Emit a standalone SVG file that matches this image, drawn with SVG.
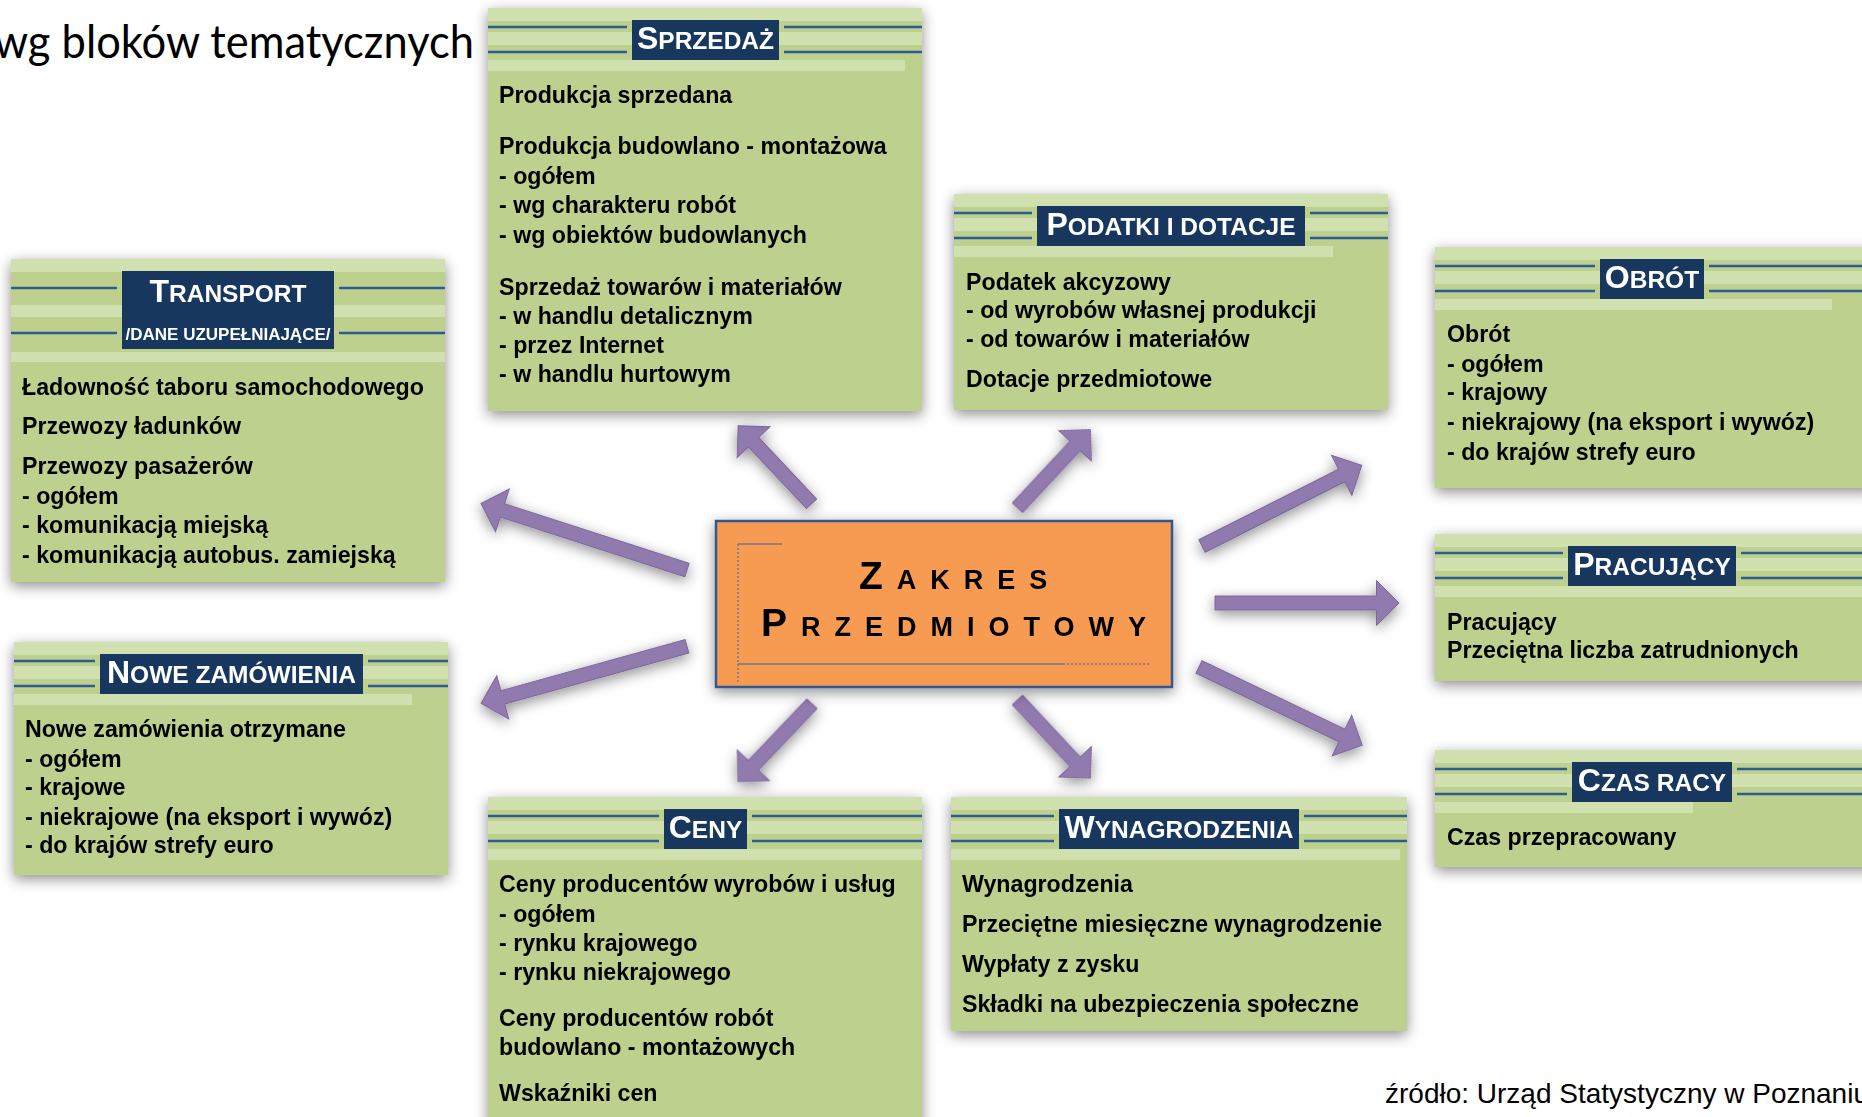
<svg xmlns="http://www.w3.org/2000/svg" width="1862" height="1117" viewBox="0 0 1862 1117">
  <defs>
    <style>
      .body{fill:#BDD08E}
      .band{fill:#D1E0AF}
      .rule{stroke:#2D5B92;stroke-width:2.5}
      .tbox{fill:#17375E}
      .ttl{font-family:"Liberation Sans",Arial,sans-serif;font-weight:bold;fill:#FFFFFF;text-anchor:middle}
      .big{font-size:32px}
      .sm{font-size:24.5px}
      .txt{font-family:"Liberation Sans",Arial,sans-serif;font-weight:bold;font-size:23.2px;fill:#000000}
      .arrow{fill:#917AAE;stroke:#7C679D;stroke-width:1}
      .deco{stroke:#6E7891;stroke-width:1.5;fill:none}
      .dots{stroke:#6E7891;stroke-width:1.5;stroke-dasharray:2 2;fill:none}
      .core{font-family:"Liberation Sans",Arial,sans-serif;font-weight:bold;fill:#000000;letter-spacing:14px}
    </style>
    <filter id="shadow" x="-15%" y="-15%" width="130%" height="135%">
      <feDropShadow dx="0" dy="4" stdDeviation="7" flood-color="#000000" flood-opacity="0.45"/>
    </filter>
  </defs>

  <rect x="0" y="0" width="1862" height="1117" fill="#FFFFFF"/>

  <!-- page heading and source note -->
  <text x="-6" y="58" font-family="Lato, 'Open Sans', sans-serif" font-size="46" fill="#000000" textLength="480" lengthAdjust="spacingAndGlyphs">wg bloków tematycznych</text>
  <text x="1385" y="1103" font-family="'Liberation Sans', Arial, sans-serif" font-size="28" fill="#000000">źródło: Urząd Statystyczny w Poznaniu</text>

  <!-- connectors: block arrows radiating from the centre -->
  <g id="connectors" filter="url(#shadow)">
    <path class="arrow" transform="translate(811.5 503.7) rotate(-133.3)" d="M0,-7H84.5V-22.5L107,0L84.5,22.5V7H0Z"/>
    <path class="arrow" transform="translate(1017.5 507.7) rotate(-47)" d="M0,-7H84.5V-22.5L107,0L84.5,22.5V7H0Z"/>
    <path class="arrow" transform="translate(687 570) rotate(-162.1)" d="M0,-7H194V-22.5L216.5,0L194,22.5V7H0Z"/>
    <path class="arrow" transform="translate(687 646.3) rotate(164.5)" d="M0,-7H191.2V-22.5L213.7,0L191.2,22.5V7H0Z"/>
    <path class="arrow" transform="translate(812 703.8) rotate(133.6)" d="M0,-7H85V-22.5L107.5,0L85,22.5V7H0Z"/>
    <path class="arrow" transform="translate(1017.5 700) rotate(47)" d="M0,-7H84.5V-22.5L107,0L84.5,22.5V7H0Z"/>
    <path class="arrow" transform="translate(1202 546) rotate(-26.8)" d="M0,-7H156.5V-22.5L179,0L156.5,22.5V7H0Z"/>
    <path class="arrow" transform="translate(1215 603)" d="M0,-7H161.5V-22.5L184,0L161.5,22.5V7H0Z"/>
    <path class="arrow" transform="translate(1199 667) rotate(25.6)" d="M0,-7H158.5V-22.5L181,0L158.5,22.5V7H0Z"/>
  </g>

  <!-- centre -->
  <g id="zakres">
    <rect x="716" y="521" width="456" height="166" fill="#F79B52" stroke="#2F5A8F" stroke-width="2.5" filter="url(#shadow)"/>
    <path class="deco" d="M738,544H782M738,664H1063"/>
    <path class="dots" d="M738,544V684M1063,664H1149"/>
    <text class="core" x="859" y="589"><tspan font-size="39">Z</tspan><tspan font-size="27">AKRES</tspan></text>
    <text class="core" x="761" y="636"><tspan font-size="39">P</tspan><tspan font-size="27">RZEDMIOTOWY</tspan></text>
  </g>

  <g id="sprzedaz">
    <rect class="body" x="488" y="8" width="434" height="403" filter="url(#shadow)"/>
    <rect class="band" x="488" y="8" width="434" height="13"/>
    <rect class="band" x="488" y="32" width="434" height="13"/>
    <rect class="band" x="488" y="60" width="417" height="11"/>
    <path class="rule" d="M488,27H627M784,27H922M488,52H627M784,52H922"/>
    <rect class="tbox" x="632" y="20" width="147" height="40"/>
    <text class="ttl" x="705.5" y="49"><tspan class="big">S</tspan><tspan class="sm">PRZEDAŻ</tspan></text>
    <text class="txt" x="499" y="103">Produkcja sprzedana</text>
    <text class="txt" x="499" y="154">Produkcja budowlano - montażowa</text>
    <text class="txt" x="499" y="184">- ogółem</text>
    <text class="txt" x="499" y="213">- wg charakteru robót</text>
    <text class="txt" x="499" y="243">- wg obiektów budowlanych</text>
    <text class="txt" x="499" y="295">Sprzedaż towarów i materiałów</text>
    <text class="txt" x="499" y="324">- w handlu detalicznym</text>
    <text class="txt" x="499" y="353">- przez Internet</text>
    <text class="txt" x="499" y="382">- w handlu hurtowym</text>
  </g>

  <g id="transport">
    <rect class="body" x="11" y="259" width="434" height="323" filter="url(#shadow)"/>
    <rect class="band" x="11" y="259" width="434" height="13"/>
    <rect class="band" x="11" y="305" width="434" height="12"/>
    <rect class="band" x="11" y="352" width="434" height="10"/>
    <path class="rule" d="M11,288H117M339,288H445M11,333H117M339,333H445"/>
    <rect class="tbox" x="122" y="271" width="212" height="78"/>
    <text class="ttl" x="228" y="302"><tspan class="big">T</tspan><tspan class="sm">RANSPORT</tspan></text>
    <text class="ttl" x="228" y="340" font-size="17">/DANE UZUPEŁNIAJĄCE/</text>
    <text class="txt" x="22" y="395">Ładowność taboru samochodowego</text>
    <text class="txt" x="22" y="434">Przewozy ładunków</text>
    <text class="txt" x="22" y="474">Przewozy pasażerów</text>
    <text class="txt" x="22" y="504">- ogółem</text>
    <text class="txt" x="22" y="533">- komunikacją miejską</text>
    <text class="txt" x="22" y="563">- komunikacją autobus. zamiejską</text>
  </g>

  <g id="podatki">
    <rect class="body" x="954" y="194" width="434" height="216" filter="url(#shadow)"/>
    <rect class="band" x="954" y="194" width="434" height="13"/>
    <rect class="band" x="954" y="218" width="434" height="13"/>
    <rect class="band" x="954" y="246" width="379" height="11"/>
    <path class="rule" d="M954,213H1032M1310,213H1388M954,238H1032M1310,238H1388"/>
    <rect class="tbox" x="1037" y="206" width="268" height="40"/>
    <text class="ttl" x="1171" y="235"><tspan class="big">P</tspan><tspan class="sm">ODATKI I DOTACJE</tspan></text>
    <text class="txt" x="966" y="290">Podatek akcyzowy</text>
    <text class="txt" x="966" y="318">- od wyrobów własnej produkcji</text>
    <text class="txt" x="966" y="347">- od towarów i materiałów</text>
    <text class="txt" x="966" y="387">Dotacje przedmiotowe</text>
  </g>

  <g id="obrot">
    <rect class="body" x="1435" y="247" width="440" height="241" filter="url(#shadow)"/>
    <rect class="band" x="1435" y="247" width="440" height="13"/>
    <rect class="band" x="1435" y="271" width="440" height="13"/>
    <rect class="band" x="1435" y="299" width="397" height="11"/>
    <path class="rule" d="M1435,266H1595M1709,266H1875M1435,291H1595M1709,291H1875"/>
    <rect class="tbox" x="1600" y="259" width="104" height="40"/>
    <text class="ttl" x="1652" y="288"><tspan class="big">O</tspan><tspan class="sm">BRÓT</tspan></text>
    <text class="txt" x="1447" y="342">Obrót</text>
    <text class="txt" x="1447" y="372">- ogółem</text>
    <text class="txt" x="1447" y="400">- krajowy</text>
    <text class="txt" x="1447" y="430">- niekrajowy (na eksport i wywóz)</text>
    <text class="txt" x="1447" y="460">- do krajów strefy euro</text>
  </g>

  <g id="pracujacy">
    <rect class="body" x="1435" y="534" width="440" height="147" filter="url(#shadow)"/>
    <rect class="band" x="1435" y="534" width="440" height="13"/>
    <rect class="band" x="1435" y="558" width="440" height="13"/>
    <rect class="band" x="1435" y="586" width="440" height="11"/>
    <path class="rule" d="M1435,553H1563M1741,553H1875M1435,578H1563M1741,578H1875"/>
    <rect class="tbox" x="1568" y="546" width="168" height="40"/>
    <text class="ttl" x="1652" y="575"><tspan class="big">P</tspan><tspan class="sm">RACUJĄCY</tspan></text>
    <text class="txt" x="1447" y="630">Pracujący</text>
    <text class="txt" x="1447" y="658">Przeciętna liczba zatrudnionych</text>
  </g>

  <g id="czas-pracy">
    <rect class="body" x="1435" y="750" width="440" height="117" filter="url(#shadow)"/>
    <rect class="band" x="1435" y="750" width="440" height="13"/>
    <rect class="band" x="1435" y="774" width="440" height="13"/>
    <rect class="band" x="1435" y="802" width="258" height="11"/>
    <path class="rule" d="M1435,769H1567M1737,769H1875M1435,794H1567M1737,794H1875"/>
    <rect class="tbox" x="1572" y="762" width="160" height="40"/>
    <text class="ttl" x="1652" y="791"><tspan class="big">C</tspan><tspan class="sm">ZAS RACY</tspan></text>
    <text class="txt" x="1447" y="845">Czas przepracowany</text>
  </g>

  <g id="nowe-zamowienia">
    <rect class="body" x="14" y="642" width="434" height="233" filter="url(#shadow)"/>
    <rect class="band" x="14" y="642" width="434" height="13"/>
    <rect class="band" x="14" y="666" width="434" height="13"/>
    <rect class="band" x="14" y="694" width="398" height="11"/>
    <path class="rule" d="M14,661H95M368,661H448M14,686H95M368,686H448"/>
    <rect class="tbox" x="100" y="654" width="263" height="40"/>
    <text class="ttl" x="231.5" y="683"><tspan class="big">N</tspan><tspan class="sm">OWE ZAMÓWIENIA</tspan></text>
    <text class="txt" x="25" y="737">Nowe zamówienia otrzymane</text>
    <text class="txt" x="25" y="767">- ogółem</text>
    <text class="txt" x="25" y="795">- krajowe</text>
    <text class="txt" x="25" y="825">- niekrajowe (na eksport i wywóz)</text>
    <text class="txt" x="25" y="853">- do krajów strefy euro</text>
  </g>

  <g id="ceny">
    <rect class="body" x="488" y="797" width="434" height="330" filter="url(#shadow)"/>
    <rect class="band" x="488" y="797" width="434" height="13"/>
    <rect class="band" x="488" y="821" width="434" height="13"/>
    <rect class="band" x="488" y="849" width="434" height="11"/>
    <path class="rule" d="M488,816H659M752,816H922M488,841H659M752,841H922"/>
    <rect class="tbox" x="664" y="809" width="83" height="40"/>
    <text class="ttl" x="705.5" y="838"><tspan class="big">C</tspan><tspan class="sm">ENY</tspan></text>
    <text class="txt" x="499" y="892">Ceny producentów wyrobów i usług</text>
    <text class="txt" x="499" y="922">- ogółem</text>
    <text class="txt" x="499" y="951">- rynku krajowego</text>
    <text class="txt" x="499" y="980">- rynku niekrajowego</text>
    <text class="txt" x="499" y="1026">Ceny producentów robót</text>
    <text class="txt" x="499" y="1055">budowlano - montażowych</text>
    <text class="txt" x="499" y="1101">Wskaźniki cen</text>
  </g>

  <g id="wynagrodzenia">
    <rect class="body" x="951" y="797" width="456" height="234" filter="url(#shadow)"/>
    <rect class="band" x="951" y="797" width="456" height="13"/>
    <rect class="band" x="951" y="821" width="456" height="13"/>
    <rect class="band" x="951" y="849" width="449" height="11"/>
    <path class="rule" d="M951,816H1054M1304,816H1407M951,841H1054M1304,841H1407"/>
    <rect class="tbox" x="1059" y="809" width="240" height="40"/>
    <text class="ttl" x="1179" y="838"><tspan class="big">W</tspan><tspan class="sm">YNAGRODZENIA</tspan></text>
    <text class="txt" x="962" y="892">Wynagrodzenia</text>
    <text class="txt" x="962" y="932">Przeciętne miesięczne wynagrodzenie</text>
    <text class="txt" x="962" y="972">Wypłaty z zysku</text>
    <text class="txt" x="962" y="1012">Składki na ubezpieczenia społeczne</text>
  </g>
</svg>
